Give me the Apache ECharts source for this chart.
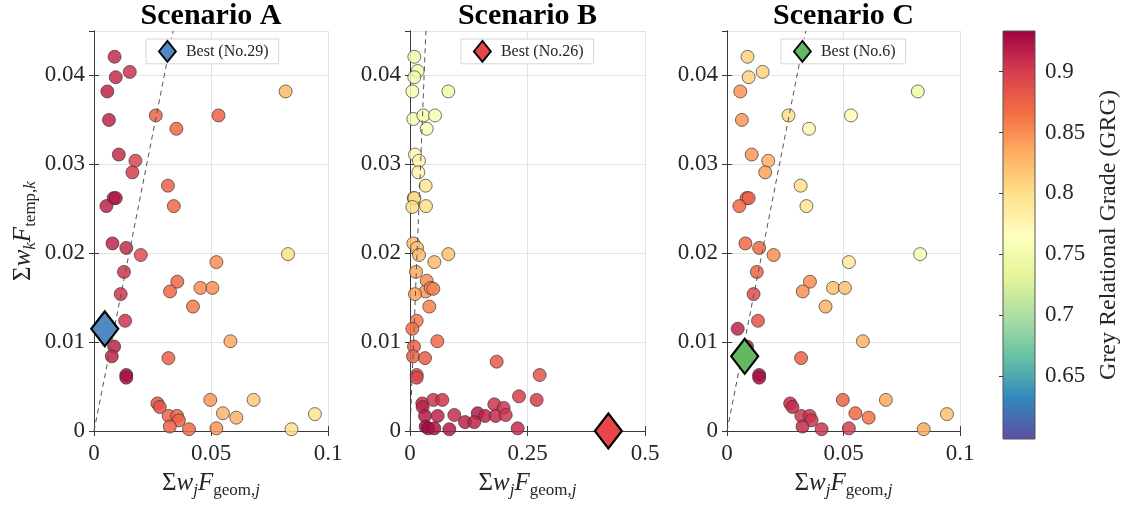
<!DOCTYPE html>
<html>
<head>
<meta charset="utf-8">
<script src="https://cdn.jsdelivr.net/npm/echarts@6/dist/echarts.min.js"></script>
<style>
html,body{margin:0;padding:0;background:#fff;}
#chart{width:1128px;height:506px;}
</style>
</head>
<body>
<div id="chart"></div>
<script>
// ---------------- DATA ----------------
const titles = ['Scenario A', 'Scenario B', 'Scenario C'];
// Scenario A and C share the same design points
const geomAC = [0.0088,0.0093,0.0153,0.0057,0.0064,0.0264,0.0532,0.0352,0.0819,0.0106,0.0177,0.0164,0.0316,0.0341,0.0084,0.0093,0.0053,0.0079,0.0138,0.0200,0.0829,0.0523,0.0128,0.0356,0.0325,0.0455,0.0506,0.0114,0.0423,0.0133,0.0046,0.0583,0.0086,0.0076,0.0318,0.0138,0.0138,0.0271,0.0281,0.0497,0.0682,0.0944,0.0551,0.0608,0.0319,0.0355,0.0363,0.0324,0.0406,0.0523,0.0844];
const tempAC = [0.0421,0.0398,0.0404,0.0382,0.0350,0.0355,0.0355,0.0340,0.0382,0.0311,0.0304,0.0291,0.0276,0.0253,0.0262,0.0262,0.0253,0.0211,0.0206,0.0198,0.0199,0.0190,0.0179,0.0168,0.0157,0.0161,0.0161,0.0154,0.0140,0.0124,0.0115,0.0101,0.0095,0.0084,0.0082,0.0063,0.0060,0.0031,0.0027,0.0035,0.0035,0.0019,0.0020,0.0015,0.0017,0.0017,0.0012,0.0005,0.0002,0.0003,0.0002];
const grgA = [0.91,0.91,0.905,0.915,0.915,0.875,0.875,0.87,0.825,0.91,0.895,0.90,0.875,0.87,0.925,0.92,0.915,0.915,0.91,0.89,0.80,0.85,0.905,0.87,0.87,0.85,0.85,0.905,0.86,0.905,0.93,0.835,0.915,0.915,0.875,0.93,0.925,0.885,0.885,0.845,0.815,0.795,0.83,0.83,0.875,0.875,0.875,0.875,0.87,0.845,0.80];
const grgC = [0.81,0.81,0.81,0.845,0.845,0.80,0.77,0.775,0.745,0.845,0.83,0.84,0.80,0.795,0.875,0.875,0.87,0.87,0.87,0.85,0.755,0.79,0.875,0.85,0.85,0.82,0.82,0.89,0.83,0.885,0.915,0.83,0.915,0.93,0.875,0.93,0.925,0.91,0.91,0.875,0.835,0.82,0.87,0.865,0.905,0.905,0.905,0.91,0.905,0.90,0.835];
// Scenario B
const geomB = [0.0092,0.0163,0.0092,0.0050,0.0816,0.0071,0.0284,0.0532,0.0355,0.0106,0.0191,0.0177,0.0333,0.0340,0.0080,0.0095,0.0050,0.0071,0.0150,0.0191,0.0816,0.0518,0.0128,0.0355,0.0333,0.0440,0.0496,0.0106,0.0411,0.0142,0.0050,0.0582,0.0085,0.0064,0.0319,0.0142,0.0142,0.1844,0.2759,0.0262,0.0269,0.0496,0.0688,0.2319,0.2695,0.1794,0.1993,0.0943,0.0589,0.0319,0.1440,0.1596,0.1823,0.2036,0.1170,0.1368,0.0333,0.0390,0.0517,0.0837,0.2291,0.4220];
const tempB = [0.0421,0.0405,0.0398,0.0382,0.0382,0.0351,0.0355,0.0355,0.0340,0.0311,0.0304,0.0291,0.0276,0.0253,0.0262,0.0262,0.0252,0.0211,0.0206,0.0198,0.0199,0.0190,0.0179,0.0169,0.0157,0.0161,0.0160,0.0154,0.0140,0.0124,0.0115,0.0101,0.0095,0.0084,0.0082,0.0063,0.0060,0.0078,0.0063,0.0031,0.0027,0.0035,0.0035,0.0039,0.0035,0.0030,0.0026,0.0018,0.0017,0.0017,0.0020,0.0017,0.0017,0.0018,0.0010,0.0010,0.0005,0.0003,0.0003,0.0002,0.0003,0.0000];
const grgB = [0.75,0.75,0.75,0.755,0.745,0.755,0.755,0.755,0.76,0.77,0.775,0.78,0.795,0.80,0.815,0.80,0.80,0.82,0.82,0.825,0.82,0.825,0.835,0.85,0.845,0.85,0.855,0.84,0.855,0.86,0.865,0.87,0.875,0.875,0.88,0.895,0.895,0.88,0.885,0.91,0.915,0.905,0.905,0.90,0.90,0.905,0.905,0.91,0.915,0.92,0.92,0.915,0.91,0.905,0.915,0.915,0.93,0.93,0.925,0.92,0.91,0.93];
// Best designs [geom, temp]
const bestPoints = [[0.0046,0.0115],[0.422,0.0000],[0.0076,0.0084]];
const bestLabels = ['Best (No.29)','Best (No.26)','Best (No.6)'];
// Dashed guide line endpoints
const guideLine = [[0,0],[0.0338,0.045]];
// Axis ranges / ticks
const xMaxes = [0.1, 0.5, 0.1];
const xIntervals = [0.05, 0.25, 0.05];
const yMax = 0.045, yInterval = 0.01;
const cbMin = 0.598, cbMax = 0.9335;
const cbTicks = [0.65, 0.7, 0.75, 0.8, 0.85, 0.9];

// ---------------- STYLE / LAYOUT ----------------
const FONT = 'Liberation Serif';
const TXT = '#262626';
const spectral = ['#5e4fa2','#3288bd','#66c2a5','#abdda4','#e6f598','#ffffbf','#fee08b','#fdae61','#f46d43','#d53e4f','#9e0142'];
const bestColors = ['#5189c2','#e8474a','#63b862'];
const gridLefts = [94, 410, 727];
const gridWidths = [234, 235, 233];
const legendLefts = [146, 461, 781];
const GT = 31, GH = 400;

const rich = {
  n: {fontFamily: FONT, fontSize: 25, color: TXT, lineHeight: 32, verticalAlign: 'middle'},
  i: {fontFamily: FONT, fontSize: 25, fontStyle: 'italic', color: TXT, lineHeight: 32, verticalAlign: 'middle'},
  s: {fontFamily: FONT, fontSize: 17, color: TXT, lineHeight: 15, verticalAlign: 'bottom'},
  si: {fontFamily: FONT, fontSize: 17, fontStyle: 'italic', color: TXT, lineHeight: 15, verticalAlign: 'bottom'}
};
const xName = '{n|Σ}{i|w}{si|j}{i|F}{s|geom,}{si|j}';
const yName = '{n|Σ}{i|w}{si|k}{i|F}{s|temp,}{si|k}';

const scen = [
  {geom: geomAC, temp: tempAC, grg: grgA},
  {geom: geomB, temp: tempB, grg: grgB},
  {geom: geomAC, temp: tempAC, grg: grgC}
];

const grids = [], xAxes = [], yAxes = [], series = [], legends = [], titleArr = [];
const scatterIdx = [];
const tickLabelStyle = {fontFamily: FONT, fontSize: 23, color: TXT};
const boxLine = {show: true, lineStyle: {color: '#3a3a3a', width: 1}};

for (let p = 0; p < 3; p++) {
  grids.push({left: gridLefts[p], top: GT, width: gridWidths[p], height: GH});
  titleArr.push({
    text: titles[p], left: gridLefts[p] + gridWidths[p] / 2, top: 1, textAlign: 'center', padding: 0,
    textStyle: {fontFamily: FONT, fontWeight: 'bold', fontSize: 30, color: '#000'}
  });
  xAxes.push({
    type: 'value', gridIndex: p, min: 0, max: xMaxes[p], interval: xIntervals[p], position: 'bottom',
    axisLine: boxLine, axisTick: {show: true, inside: true, length: 5, lineStyle: {color: '#3a3a3a'}},
    axisLabel: Object.assign({margin: 11}, tickLabelStyle),
    splitLine: {show: true, lineStyle: {color: '#e3e3e3', width: 1}},
    name: xName, nameLocation: 'middle', nameGap: 36, nameTextStyle: {rich: rich}
  });
  xAxes.push({
    type: 'value', gridIndex: p, min: 0, max: xMaxes[p], interval: xIntervals[p], position: 'top',
    axisLine: boxLine, axisTick: {show: true, inside: true, length: 5, lineStyle: {color: '#3a3a3a'}},
    axisLabel: {show: false}, splitLine: {show: false}
  });
  const yLeft = {
    type: 'value', gridIndex: p, min: 0, max: yMax, interval: yInterval, position: 'left',
    axisLine: boxLine, axisTick: {show: true, inside: true, length: 5, lineStyle: {color: '#3a3a3a'}},
    axisLabel: Object.assign({margin: 9, showMaxLabel: false}, tickLabelStyle),
    splitLine: {show: true, lineStyle: {color: '#e3e3e3', width: 1}}
  };
  if (p === 0) {
    Object.assign(yLeft, {name: yName, nameLocation: 'middle', nameGap: 55, nameRotate: 90, nameTextStyle: {rich: rich}});
  }
  yAxes.push(yLeft);
  yAxes.push({
    type: 'value', gridIndex: p, min: 0, max: yMax, interval: yInterval, position: 'right',
    axisLine: boxLine, axisTick: {show: true, inside: true, length: 5, lineStyle: {color: '#3a3a3a'}},
    axisLabel: {show: false}, splitLine: {show: false}
  });

  const s = scen[p];
  scatterIdx.push(series.length);
  series.push({
    type: 'scatter', xAxisIndex: 2 * p, yAxisIndex: 2 * p, clip: false, z: 2,
    symbol: 'circle', symbolSize: 13,
    itemStyle: {borderColor: '#333', borderWidth: 0.8, opacity: 0.85},
    data: s.geom.map((x, i) => [x, s.temp[i], s.grg[i]]),
    silent: true
  });
  series.push({
    type: 'line', xAxisIndex: 2 * p, yAxisIndex: 2 * p, z: 3, symbol: 'none',
    lineStyle: {type: [5, 4], color: '#555', width: 1},
    data: guideLine, silent: true
  });
  series.push({
    type: 'scatter', name: bestLabels[p], xAxisIndex: 2 * p, yAxisIndex: 2 * p, clip: false, z: 4,
    symbol: 'diamond', symbolSize: [27, 35],
    itemStyle: {color: bestColors[p], borderColor: '#000', borderWidth: 2.2, opacity: 1},
    data: [bestPoints[p]], silent: true
  });
  legends.push({
    data: [{name: bestLabels[p], icon: 'diamond'}], left: legendLefts[p], top: 39,
    orient: 'horizontal', itemWidth: 17, itemHeight: 21,
    backgroundColor: '#fff', borderColor: '#d6d6d6', borderWidth: 1, padding: [1, 10, 1, 12],
    selectedMode: false,
    itemStyle: {borderColor: '#000', borderWidth: 1.8},
    textStyle: {fontFamily: FONT, fontSize: 16, color: TXT, padding: [0, 0, 0, 5]}
  });
}

// Colorbar grid
grids.push({left: 1003, top: GT, width: 32, height: 408});
xAxes.push({type: 'value', gridIndex: 3, min: 0, max: 1, show: false});
yAxes.push({
  type: 'value', gridIndex: 3, min: cbMin, max: cbMax, position: 'right',
  axisLine: {show: false}, splitLine: {show: false},
  axisTick: {show: true, inside: true, length: 4, customValues: cbTicks, lineStyle: {color: '#3a3a3a'}},
  axisLabel: Object.assign({margin: 10, customValues: cbTicks, formatter: v => String(+v.toFixed(2))}, tickLabelStyle),
  name: 'Grey Relational Grade (GRG)', nameLocation: 'middle', nameRotate: 90, nameGap: 62,
  nameTextStyle: {fontFamily: FONT, fontSize: 24, color: TXT}
});
const gradStops = spectral.map((c, i) => ({offset: 1 - i / (spectral.length - 1), color: c}));
series.push({
  type: 'custom', xAxisIndex: 6, yAxisIndex: 6, z: 1, silent: true,
  data: [[0, cbMin, cbMax]],
  renderItem: function (params, api) {
    const p0 = api.coord([0, api.value(2)]);
    const p1 = api.coord([1, api.value(1)]);
    return {
      type: 'rect',
      shape: {x: p0[0], y: p0[1], width: p1[0] - p0[0], height: p1[1] - p0[1]},
      style: {
        fill: new echarts.graphic.LinearGradient(0, 0, 0, 1, gradStops),
        stroke: '#555', lineWidth: 1
      }
    };
  }
});

const chart = echarts.init(document.getElementById('chart'), null, {renderer: 'canvas'});
chart.setOption({
  animation: false,
  backgroundColor: '#fff',
  title: titleArr,
  grid: grids,
  xAxis: xAxes,
  yAxis: yAxes,
  legend: legends,
  visualMap: [{
    type: 'continuous', show: false, min: cbMin, max: cbMax, dimension: 2,
    seriesIndex: scatterIdx, inRange: {color: spectral}
  }],
  series: series
});
</script>
</body>
</html>
